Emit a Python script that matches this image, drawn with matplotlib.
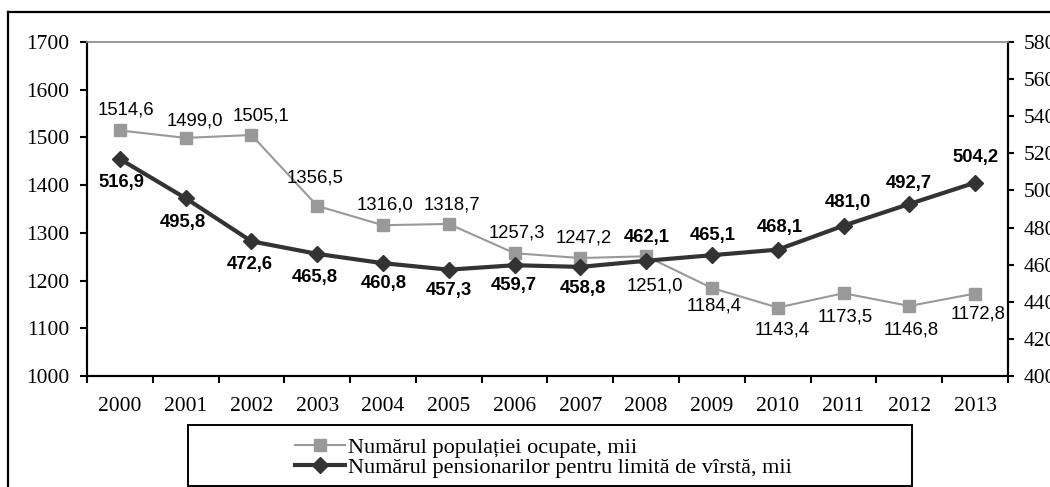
import matplotlib
matplotlib.use("Agg")
import matplotlib.pyplot as plt
from matplotlib.lines import Line2D
from matplotlib.patches import Rectangle

# data
years = ["2000", "2001", "2002", "2003", "2004", "2005", "2006",
         "2007", "2008", "2009", "2010", "2011", "2012", "2013"]
employed = [1514.6, 1499.0, 1505.1, 1356.5, 1316.0, 1318.7, 1257.3,
            1247.2, 1251.0, 1184.4, 1143.4, 1173.5, 1146.8, 1172.8]
pensioners = [516.9, 495.8, 472.6, 465.8, 460.8, 457.3, 459.7,
              458.8, 462.1, 465.1, 468.1, 481.0, 492.7, 504.2]
left_ticks = [1000, 1100, 1200, 1300, 1400, 1500, 1600, 1700]
right_ticks = [400, 420, 440, 460, 480, 500, 520, 540, 560, 580]
label_employed = "Numărul populației ocupate, mii"
label_pensioners = "Numărul pensionarilor pentru limită de vîrstă, mii"

# label offsets in pixels (dx, dy) relative to each marker
emp_off = [(6, 20), (9, 17), (10, 19), (-2, 28), (2, 20), (3, 19), (2, 20),
           (3, 20), (9, -30), (2, -18), (4, -22), (2, -24), (2, -24), (3, -20)]
pen_off = [(2, -23), (-3, -24), (-2, -23), (-2, -24), (1, -20), (0, -21), (-1, -20),
           (3, -22), (1, 23), (1, 20), (2, 22), (4, 23), (-1, 20), (0, 25)]

W, H = 1050, 487
SERIF = "Liberation Serif"
SANS = "Liberation Sans"
GRAY = "#999999"
DARK = "#333333"

fig = plt.figure(figsize=(W / 100, H / 100), dpi=100)
ax = fig.add_axes([87 / W, 1 - 376 / H, (1008 - 87) / W, (376 - 42) / H])
ax2 = ax.twinx()

x = list(range(len(years)))

ax.plot(x, employed, color=GRAY, lw=1.5, marker="s", markersize=9,
        markerfacecolor=GRAY, markeredgecolor=GRAY, zorder=3)
ax2.plot(x, pensioners, color=DARK, lw=3, marker="D", markersize=8,
         markerfacecolor=DARK, markeredgecolor=DARK, zorder=4)

px = 0.72  # pixel -> points at 100 dpi
for i, v in enumerate(employed):
    dx, dy = emp_off[i]
    ax.annotate(f"{v:.1f}".replace(".", ","), (i, v), xytext=(dx * px, dy * px),
                textcoords="offset points", ha="center", va="center",
                fontsize=13.3, family=SANS, color="black")
for i, v in enumerate(pensioners):
    dx, dy = pen_off[i]
    ax2.annotate(f"{v:.1f}".replace(".", ","), (i, v), xytext=(dx * px, dy * px),
                 textcoords="offset points", ha="center", va="center",
                 fontsize=13.3, family=SANS, fontweight="bold", color="black")

ax.set_xlim(-0.5, len(years) - 0.5)
ax.set_ylim(1000, 1700)
ax2.set_ylim(400, 580)
ax.set_yticks(left_ticks)
ax2.set_yticks(right_ticks)

# category ticks between years, labels centred
ax.set_xticks([i - 0.5 for i in range(len(years) + 1)])
ax.set_xticklabels([])
ax.set_xticks(x, minor=True)
ax.set_xticklabels(years, minor=True)
ax.tick_params(axis="x", which="major", direction="out", length=5, width=1.5)
ax.tick_params(axis="x", which="minor", length=0, pad=15)
ax.tick_params(axis="y", direction="out", length=5, width=1.5, pad=8)
ax2.tick_params(axis="y", direction="out", length=4, width=1.5, pad=7)

for lab in ax.get_xticklabels(minor=True) + ax.get_yticklabels() + ax2.get_yticklabels():
    lab.set_fontfamily(SERIF)
    lab.set_fontsize(15.5)

for a in (ax, ax2):
    a.spines["top"].set_color(GRAY)
    a.spines["top"].set_linewidth(1.2)
    for s in ("left", "right", "bottom"):
        a.spines[s].set_linewidth(1.5)
        a.spines[s].set_color("black")

# outer chart border (cut by the image edge on the right and bottom)
fig.add_artist(Line2D([8 / W, 8 / W], [0, 1 - 12 / H], color="black", lw=1.6,
                      transform=fig.transFigure))
fig.add_artist(Line2D([8 / W, 1], [1 - 12 / H, 1 - 12 / H], color="black", lw=1.6,
                      transform=fig.transFigure))

# legend box
fig.add_artist(Rectangle((188 / W, 1 - 486 / H), (912 - 188) / W, (486 - 425) / H,
                         fill=False, edgecolor="black", lw=1.4, transform=fig.transFigure))
handles = [
    Line2D([], [], color=GRAY, lw=1.5, marker="s", markersize=9,
           markerfacecolor=GRAY, markeredgecolor=GRAY),
    Line2D([], [], color=DARK, lw=3, marker="D", markersize=8,
           markerfacecolor=DARK, markeredgecolor=DARK),
]
fig.legend(handles, [label_employed, label_pensioners], loc="center left",
           bbox_to_anchor=(295 / W, 1 - 457.5 / H), frameon=False,
           prop={"family": SERIF, "size": 16}, borderpad=0, borderaxespad=0,
           handlelength=2.25, handletextpad=0.15, labelspacing=0)

fig.savefig("out.png", dpi=100)
